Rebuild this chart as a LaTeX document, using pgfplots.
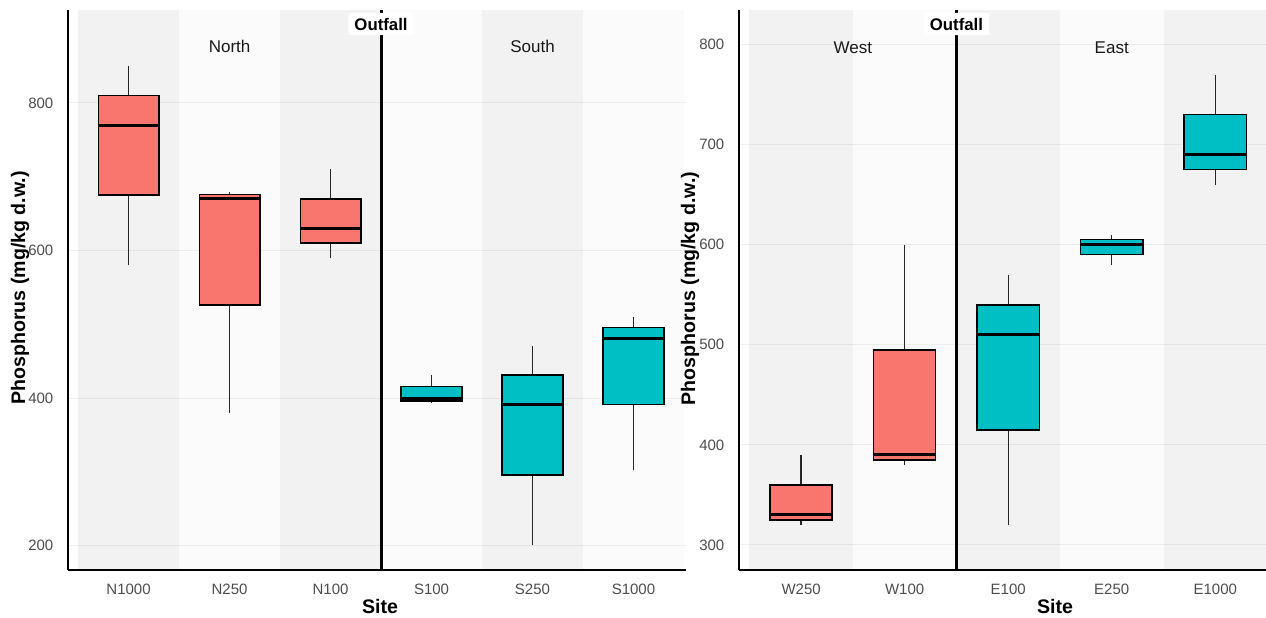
\documentclass[border=0pt]{standalone}
\usepackage{pgfplots}
\pgfplotsset{compat=1.18}
\usepackage{fontspec}
\setmainfont{Liberation Sans}
\definecolor{salmon}{HTML}{F8766D}
\definecolor{tealc}{HTML}{00BFC4}
\definecolor{ticktxt}{HTML}{4D4D4D}
\definecolor{gridc}{HTML}{F0F0F0}
\pgfplotsset{
 panel/.style={
  anchor=south west, scale only axis, height=280pt,
  axis x line=bottom, axis y line=left,
  axis line style={-, line width=0.9pt, black},
  tick style={draw=none},
  ymajorgrids, grid style={gridc, line width=0.5pt},
  ticklabel style={font=\fontsize{7.5}{8}\selectfont, text=ticktxt, inner sep=0pt},
  yticklabel style={xshift=-5pt},
  xticklabel style={yshift=-4.5pt},
  /pgf/number format/assume math mode=true,
 },
 boxs/.style={draw=black, line width=0.75pt, fill=#1, mark=none},
 wsk/.style={draw=black!85, line width=0.7pt, mark=none},
 med/.style={draw=black, line width=1.5pt, mark=none},
}
\tikzset{
 dband/.style={fill=black, fill opacity=0.05},
 lband/.style={fill=black, fill opacity=0.015},
 grp/.style={font=\fontsize{8.5}{10}\selectfont, text=black!90},
 outf/.style={fill=white, font=\bfseries\fontsize{8.4}{10}\selectfont, inner xsep=3pt, inner ysep=2.5pt, rounded corners=1pt},
 albl/.style={font=\bfseries\fontsize{9.8}{11}\selectfont},
}
\begin{document}
\begin{tikzpicture}
\useasboundingbox (0,0) rectangle (633pt,308.5pt);
% ---------------- left panel ----------------
\begin{axis}[panel, at={(34pt,23.5pt)}, width=309pt,
  xmin=0.4, xmax=6.52, ymin=167, ymax=926,
  xtick={1,2,3,4,5,6}, xticklabels={N1000,N250,N100,S100,S250,S1000},
  ytick={200,400,600,800}]
\fill[dband] (axis cs:0.5,167) rectangle (axis cs:1.5,926);
\fill[lband] (axis cs:1.5,167) rectangle (axis cs:2.5,926);
\fill[dband] (axis cs:2.5,167) rectangle (axis cs:3.5,926);
\fill[lband] (axis cs:3.5,167) rectangle (axis cs:4.5,926);
\fill[dband] (axis cs:4.5,167) rectangle (axis cs:5.5,926);
\fill[lband] (axis cs:5.5,167) rectangle (axis cs:6.5,926);
% N1000
\addplot[wsk] coordinates {(1,580) (1,675)};
\addplot[wsk] coordinates {(1,810) (1,850)};
\addplot[boxs=salmon] coordinates {(0.7,675) (1.3,675) (1.3,810) (0.7,810)} -- cycle;
\addplot[med] coordinates {(0.7,770) (1.3,770)};
% N250
\addplot[wsk] coordinates {(2,380) (2,526)};
\addplot[wsk] coordinates {(2,676) (2,679)};
\addplot[boxs=salmon] coordinates {(1.7,526) (2.3,526) (2.3,676) (1.7,676)} -- cycle;
\addplot[med] coordinates {(1.7,670) (2.3,670)};
% N100
\addplot[wsk] coordinates {(3,590) (3,610)};
\addplot[wsk] coordinates {(3,670) (3,710)};
\addplot[boxs=salmon] coordinates {(2.7,610) (3.3,610) (3.3,670) (2.7,670)} -- cycle;
\addplot[med] coordinates {(2.7,630) (3.3,630)};
% S100
\addplot[wsk] coordinates {(4,393) (4,396)};
\addplot[wsk] coordinates {(4,416) (4,431)};
\addplot[boxs=tealc] coordinates {(3.7,396) (4.3,396) (4.3,416) (3.7,416)} -- cycle;
\addplot[med] coordinates {(3.7,400) (4.3,400)};
% S250
\addplot[wsk] coordinates {(5,201) (5,296)};
\addplot[wsk] coordinates {(5,431) (5,470)};
\addplot[boxs=tealc] coordinates {(4.7,296) (5.3,296) (5.3,431) (4.7,431)} -- cycle;
\addplot[med] coordinates {(4.7,391) (5.3,391)};
% S1000
\addplot[wsk] coordinates {(6,302) (6,391)};
\addplot[wsk] coordinates {(6,496) (6,510)};
\addplot[boxs=tealc] coordinates {(5.7,391) (6.3,391) (6.3,496) (5.7,496)} -- cycle;
\addplot[med] coordinates {(5.7,481) (6.3,481)};
\draw[line width=1.5pt] (axis cs:3.5,167) -- (axis cs:3.5,926);
\node[outf] at (axis cs:3.5,907) {Outfall};
\node[grp] at (axis cs:2,877) {North};
\node[grp] at (axis cs:5,877) {South};
\end{axis}
% ---------------- right panel ----------------
\begin{axis}[panel, at={(369.5pt,23.5pt)}, width=263.5pt,
  xmin=0.4, xmax=5.49, ymin=275, ymax=834.5,
  xtick={1,2,3,4,5}, xticklabels={W250,W100,E100,E250,E1000},
  ytick={300,400,500,600,700,800}]
\fill[dband] (axis cs:0.5,275) rectangle (axis cs:1.5,834.5);
\fill[lband] (axis cs:1.5,275) rectangle (axis cs:2.5,834.5);
\fill[dband] (axis cs:2.5,275) rectangle (axis cs:3.5,834.5);
\fill[lband] (axis cs:3.5,275) rectangle (axis cs:4.5,834.5);
\fill[dband] (axis cs:4.5,275) rectangle (axis cs:5.5,834.5);
% W250
\addplot[wsk] coordinates {(1,320) (1,325)};
\addplot[wsk] coordinates {(1,360) (1,390)};
\addplot[boxs=salmon] coordinates {(0.7,325) (1.3,325) (1.3,360) (0.7,360)} -- cycle;
\addplot[med] coordinates {(0.7,330) (1.3,330)};
% W100
\addplot[wsk] coordinates {(2,380) (2,385)};
\addplot[wsk] coordinates {(2,495) (2,600)};
\addplot[boxs=salmon] coordinates {(1.7,385) (2.3,385) (2.3,495) (1.7,495)} -- cycle;
\addplot[med] coordinates {(1.7,390) (2.3,390)};
% E100
\addplot[wsk] coordinates {(3,320) (3,415)};
\addplot[wsk] coordinates {(3,540) (3,570)};
\addplot[boxs=tealc] coordinates {(2.7,415) (3.3,415) (3.3,540) (2.7,540)} -- cycle;
\addplot[med] coordinates {(2.7,510) (3.3,510)};
% E250
\addplot[wsk] coordinates {(4,580) (4,590)};
\addplot[wsk] coordinates {(4,605) (4,610)};
\addplot[boxs=tealc] coordinates {(3.7,590) (4.3,590) (4.3,605) (3.7,605)} -- cycle;
\addplot[med] coordinates {(3.7,600) (4.3,600)};
% E1000
\addplot[wsk] coordinates {(5,660) (5,675)};
\addplot[wsk] coordinates {(5,730) (5,770)};
\addplot[boxs=tealc] coordinates {(4.7,675) (5.3,675) (5.3,730) (4.7,730)} -- cycle;
\addplot[med] coordinates {(4.7,690) (5.3,690)};
\draw[line width=1.5pt] (axis cs:2.5,275) -- (axis cs:2.5,834.5);
\node[outf] at (axis cs:2.5,820.5) {Outfall};
\node[grp] at (axis cs:1.5,796.5) {West};
\node[grp] at (axis cs:4,796.5) {East};
\end{axis}
% axis titles
\node[albl, rotate=90] at (10pt,164.5pt) {Phosphorus (mg/kg d.w.)};
\node[albl, rotate=90] at (345pt,164.2pt) {Phosphorus (mg/kg d.w.)};
\node[albl] at (190pt,5.5pt) {Site};
\node[albl] at (527.5pt,5.5pt) {Site};
\end{tikzpicture}
\end{document}
